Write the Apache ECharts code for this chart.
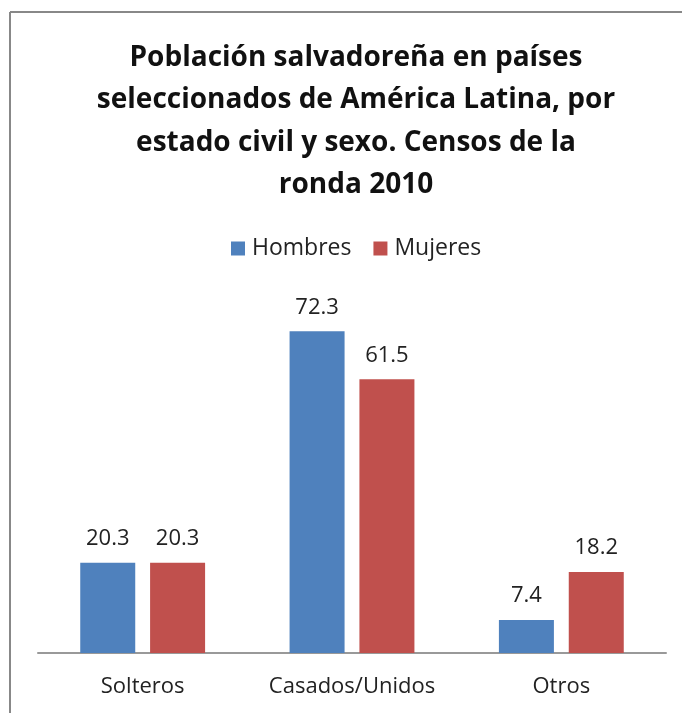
<!DOCTYPE html>
<html>
<head>
<meta charset="utf-8">
<script src="https://cdn.jsdelivr.net/npm/echarts@6/dist/echarts.min.js"></script>
<style>html,body{margin:0;padding:0;background:#fff}#c{width:682px;height:713px}</style>
</head>
<body>
<div id="c"></div>
<script>
const categories = ['Solteros', 'Casados/Unidos', 'Otros'];
const hombres = [20.3, 72.3, 7.4];
const mujeres = [20.3, 61.5, 18.2];
const seriesNames = ['Hombres', 'Mujeres'];
const titleText = 'Población salvadoreña en países\nseleccionados de América Latina, por\nestado civil y sexo. Censos de la\nronda 2010';

const FONT = 'Open Sans';
const chart = echarts.init(document.getElementById('c'), null, {renderer: 'canvas'});
const labelCfg = {show: true, position: 'top', distance: 13, color: '#222', fontSize: 22, fontFamily: FONT, formatter: p => p.value.toFixed(1)};
chart.setOption({
  backgroundColor: '#fff',
  animation: false,
  title: {
    text: titleText,
    left: 351, textAlign: 'center', top: 32,
    textStyle: {fontFamily: FONT, fontWeight: 'bold', fontSize: 28, lineHeight: 42.3, color: '#111'}
  },
  legend: {
    data: seriesNames,
    top: 232, left: 226,
    itemWidth: 14, itemHeight: 14, itemGap: 22,
    icon: 'rect',
    textStyle: {fontFamily: FONT, fontSize: 23, color: '#222', padding: [0, 0, 0, 2]}
  },
  grid: {left: 38, right: 16, top: 297, bottom: 60, containLabel: false},
  xAxis: {
    type: 'category', data: categories,
    axisLine: {show: true, lineStyle: {color: '#999', width: 2}},
    axisTick: {show: false},
    axisLabel: {interval: 0, hideOverlap: false, fontFamily: FONT, fontSize: 22, color: '#222', margin: 23}
  },
  yAxis: {type: 'value', min: 0, max: 80, show: false, splitLine: {show: false}},
  series: [
    {name: seriesNames[0], type: 'bar', data: hombres, barWidth: 55, barGap: '27%', itemStyle: {color: '#4F81BD'}, label: labelCfg},
    {name: seriesNames[1], type: 'bar', data: mujeres, barWidth: 55, itemStyle: {color: '#C0504D'}, label: labelCfg}
  ],
  graphic: [
    {type: 'line', shape: {x1: 10, y1: 12, x2: 682, y2: 12}, style: {stroke: '#888', lineWidth: 2}},
    {type: 'line', shape: {x1: 10, y1: 12, x2: 10, y2: 713}, style: {stroke: '#888', lineWidth: 2}}
  ]
});
</script>
</body>
</html>
